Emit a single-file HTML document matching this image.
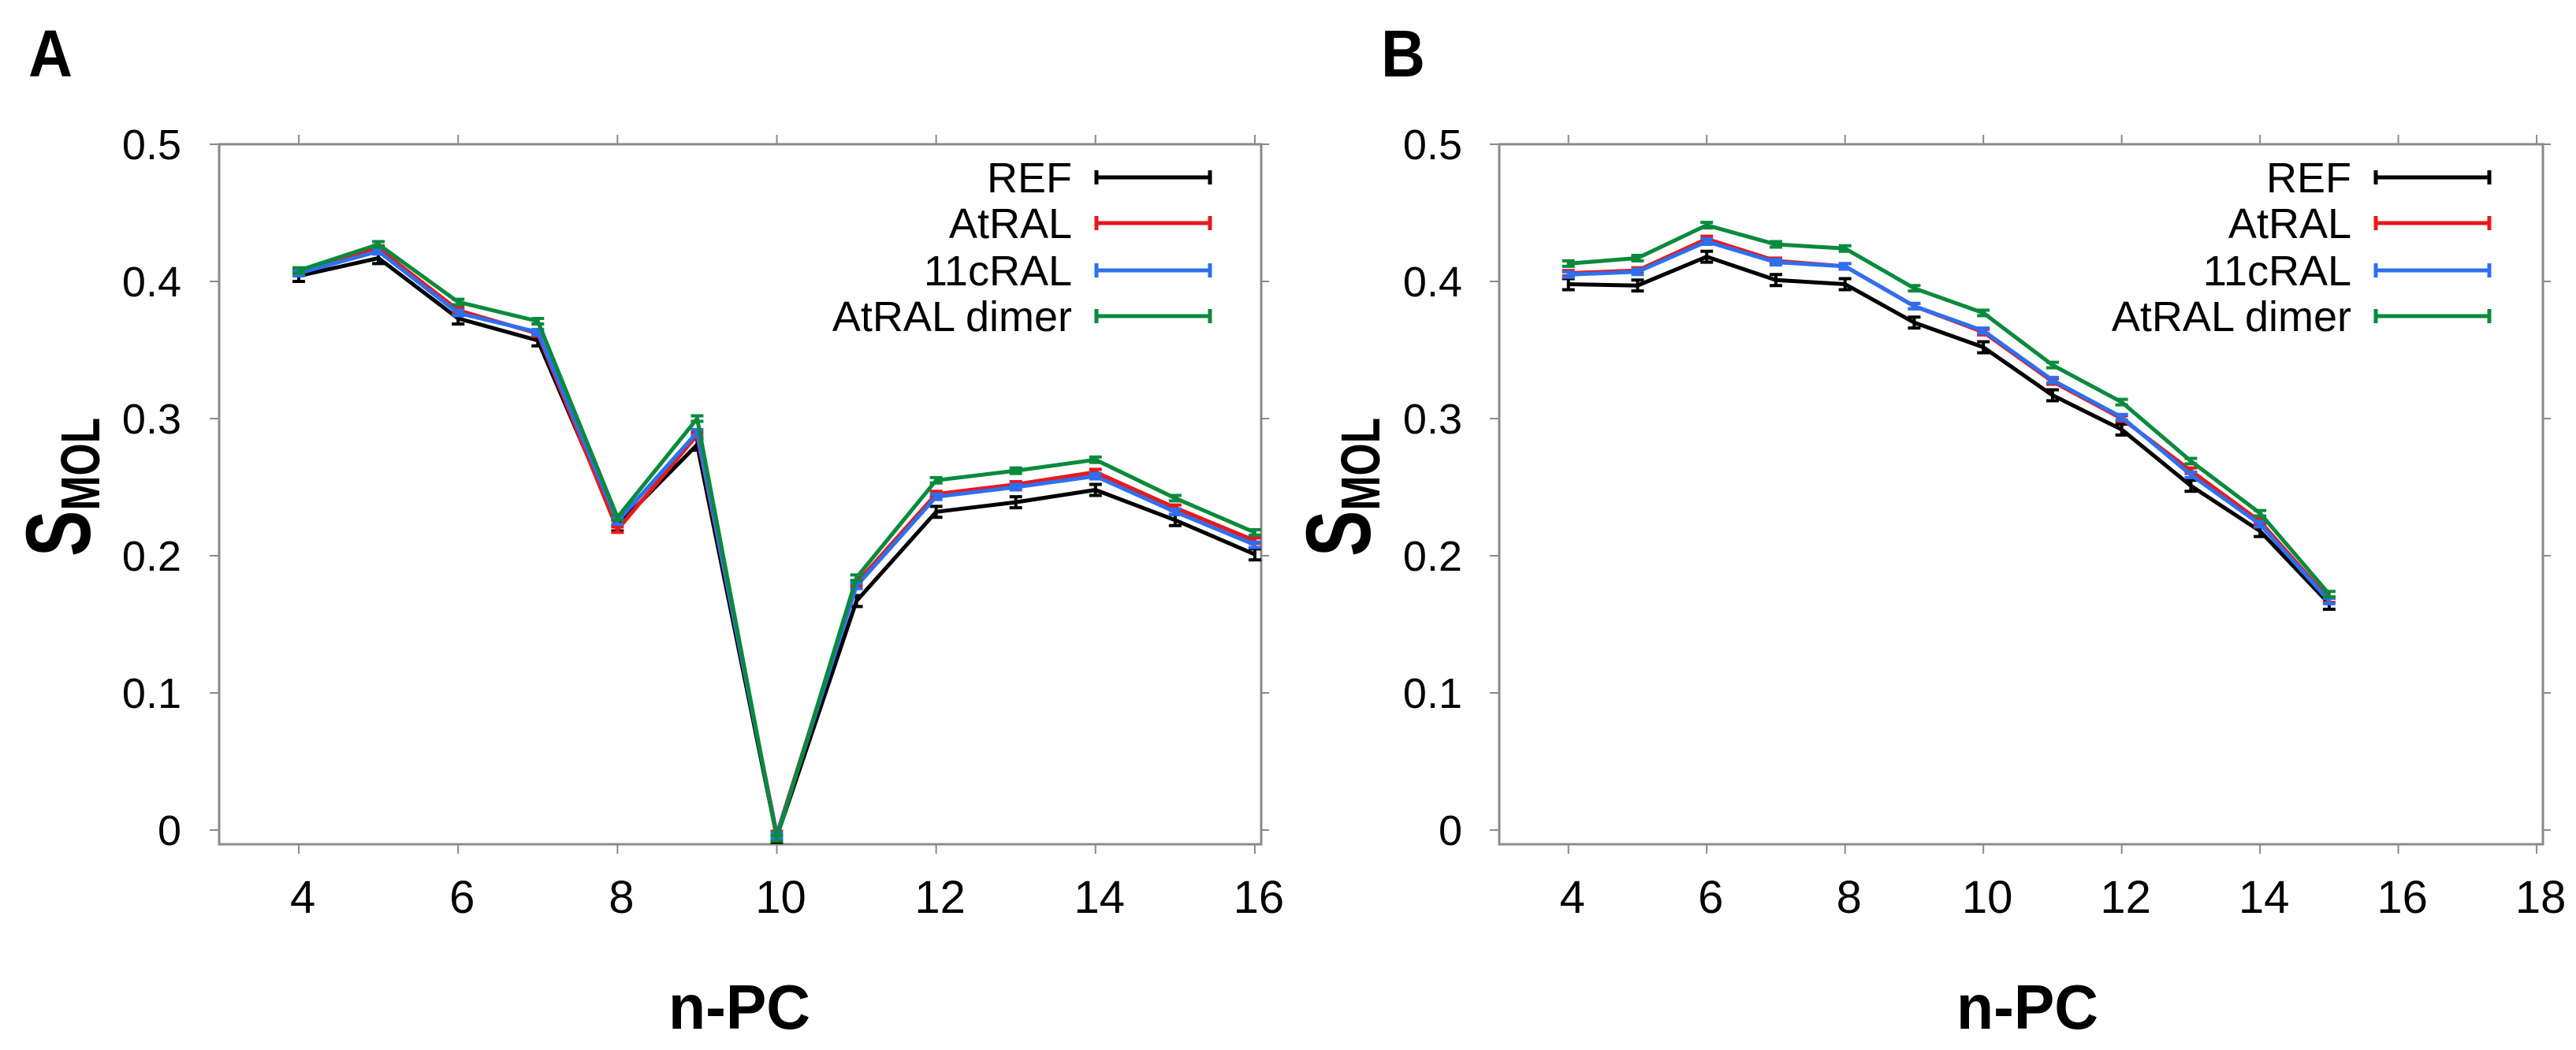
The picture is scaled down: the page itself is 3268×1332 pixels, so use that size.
<!DOCTYPE html>
<html><head><meta charset="utf-8"><style>
html,body{margin:0;padding:0;background:#fff;}
svg{display:block;font-family:"Liberation Sans",Arial,sans-serif;}
</style></head><body>
<svg id="chart" width="3268" height="1332" viewBox="0 0 3268 1332" xmlns="http://www.w3.org/2000/svg"></svg>
<script>
const seriesNames = ["REF","AtRAL","11cRAL","AtRAL dimer"];
const seriesColors = ["#000000","#e8191c","#2e6ff0","#098a3c"];
const xA = [4,5,6,7,8,9,10,11,12,13,14,15,16];
const refA = [0.404,0.417,0.373,0.357,0.222,0.281,-0.005,0.167,0.232,0.239,0.248,0.226,0.201];
const atralA = [0.407,0.424,0.379,0.362,0.219,0.288,-0.003,0.180,0.245,0.252,0.261,0.235,0.211];
const cisA = [0.406,0.422,0.377,0.363,0.225,0.290,-0.004,0.178,0.243,0.250,0.258,0.232,0.208];
const dimerA = [0.408,0.427,0.385,0.371,0.228,0.300,-0.006,0.184,0.255,0.262,0.270,0.242,0.217];
const xB = [4,5,6,7,8,9,10,11,12,13,14,15];
const refB = [0.398,0.397,0.418,0.401,0.398,0.370,0.352,0.317,0.292,0.251,0.218,0.165];
const atralB = [0.406,0.408,0.431,0.415,0.411,0.382,0.363,0.327,0.300,0.262,0.225,0.168];
const cisB = [0.405,0.407,0.429,0.414,0.411,0.382,0.364,0.328,0.301,0.259,0.223,0.167];
const dimerB = [0.413,0.417,0.441,0.427,0.424,0.395,0.377,0.339,0.312,0.269,0.231,0.172];
const errRef = 0.004, errOther = 0.002;
const yTicks = [0,0.1,0.2,0.3,0.4,0.5];
const yTickLabels = ["0","0.1","0.2","0.3","0.4","0.5"];
const xTicksA = [4,6,8,10,12,14,16];
const xTicksB = [4,6,8,10,12,14,16,18];

const NS="http://www.w3.org/2000/svg";
const svg=document.getElementById('chart');
function mk(tag,attrs,parent){const e=document.createElementNS(NS,tag);for(const k in attrs)e.setAttribute(k,attrs[k]);(parent||svg).appendChild(e);return e;}

function panel(cfg){
  const g=mk('g',{});
  
  
  const L=cfg.left,R=cfg.right,T=183,B=1071;
  const xs=v=>L+(v-cfg.xmin)/(cfg.xmax-cfg.xmin)*(R-L);
  const ys=v=>1053-v*(1053-183)/0.5;
  const lbl=mk('text',{x:cfg.letterX,y:97,'font-size':84,'font-weight':'bold',fill:'#000',textLength:56,lengthAdjust:'spacingAndGlyphs'},g);
  lbl.textContent=cfg.letter;
  
  
  const frame=mk('rect',{x:L,y:T,width:R-L,height:B-T,fill:'none',stroke:'#8a8a8a','stroke-width':3},g);
  
  
  yTicks.forEach((v,i)=>{
    const y=ys(v);
    mk('line',{x1:L-12,x2:L,y1:y,y2:y,stroke:'#8a8a8a','stroke-width':2},g);
    mk('line',{x1:R,x2:R+10,y1:y,y2:y,stroke:'#8a8a8a','stroke-width':2},g);
    const t=mk('text',{x:cfg.ylabR,y:y+19,'font-size':54,'text-anchor':'end',fill:'#000'},g);
    t.textContent=yTickLabels[i];
    
    
  });
  cfg.xticks.forEach(v=>{
    const x=xs(v);
    mk('line',{x1:x,x2:x,y1:B,y2:B+12,stroke:'#8a8a8a','stroke-width':2},g);
    mk('line',{x1:x,x2:x,y1:T-12,y2:T,stroke:'#8a8a8a','stroke-width':2},g);
    const t=mk('text',{x:x+5,y:1158,'font-size':58,'text-anchor':'middle',fill:'#000'},g);
    t.textContent=String(v);
    
    
  });
  const xt=mk('text',{x:cfg.xtX,y:1305,'font-size':80,'font-weight':'bold','text-anchor':'middle',fill:'#000',textLength:180,lengthAdjust:'spacingAndGlyphs'},g);
  xt.textContent='n-PC';
  
  
  const yt=mk('text',{transform:`translate(${cfg.ytX},618) rotate(-90)`,'font-size':116,'font-weight':'bold','text-anchor':'middle',fill:'#000',textLength:176,lengthAdjust:'spacingAndGlyphs'},g);
  
  
  const s1=mk('tspan',{},yt); s1.textContent='S';
  const s2=mk('tspan',{'font-size':70,dy:12}); yt.appendChild(s2); s2.textContent='MOL';
  cfg.series.forEach((vals,si)=>{
    const col=seriesColors[si];
    const err=si===0?errRef:errOther;
    const pts=cfg.x.map((xv,i)=>xs(xv)+','+ys(vals[i])).join(' ');
    const pl=mk('polyline',{points:pts,fill:'none',stroke:col,'stroke-width':5,'stroke-linejoin':'miter'},g);
    
    
    cfg.x.forEach((xv,i)=>{
      const x=xs(xv),y1=ys(vals[i]+err),y2=ys(vals[i]-err);
      const eb=mk('path',{d:`M${x},${y1}V${y2}M${x-8},${y1}H${x+8}M${x-8},${y2}H${x+8}`,stroke:col,'stroke-width':4,fill:'none'},g);
      
      
    });
  });
  const legY=[225,283,343,401];
  seriesNames.forEach((n,si)=>{
    const lg=mk('g',{},g);
    
    
    const t=mk('text',{x:cfg.legText,y:legY[si]+19,'font-size':54,'text-anchor':'end',fill:'#000'},lg);
    t.textContent=n;
    const a=cfg.legText+31,b=cfg.legText+175;
    mk('path',{d:`M${a},${legY[si]}H${b}M${a},${legY[si]-9}V${legY[si]+9}M${b},${legY[si]-9}V${legY[si]+9}`,stroke:seriesColors[si],'stroke-width':5,fill:'none'},lg);
  });
}
panel({name:'panel-a',letter:'A',letterX:36,left:278,right:1600,xmin:3.0,xmax:16.08,xticks:xTicksA,x:xA,series:[refA,atralA,cisA,dimerA],legText:1360,ytX:114,ylabR:230,xtX:938});
panel({name:'panel-b',letter:'B',letterX:1752,left:1902,right:3226,xmin:3.0,xmax:18.09,xticks:xTicksB,x:xB,series:[refB,atralB,cisB,dimerB],legText:2983,ytX:1738,ylabR:1855,xtX:2572});
</script>
</body></html>
